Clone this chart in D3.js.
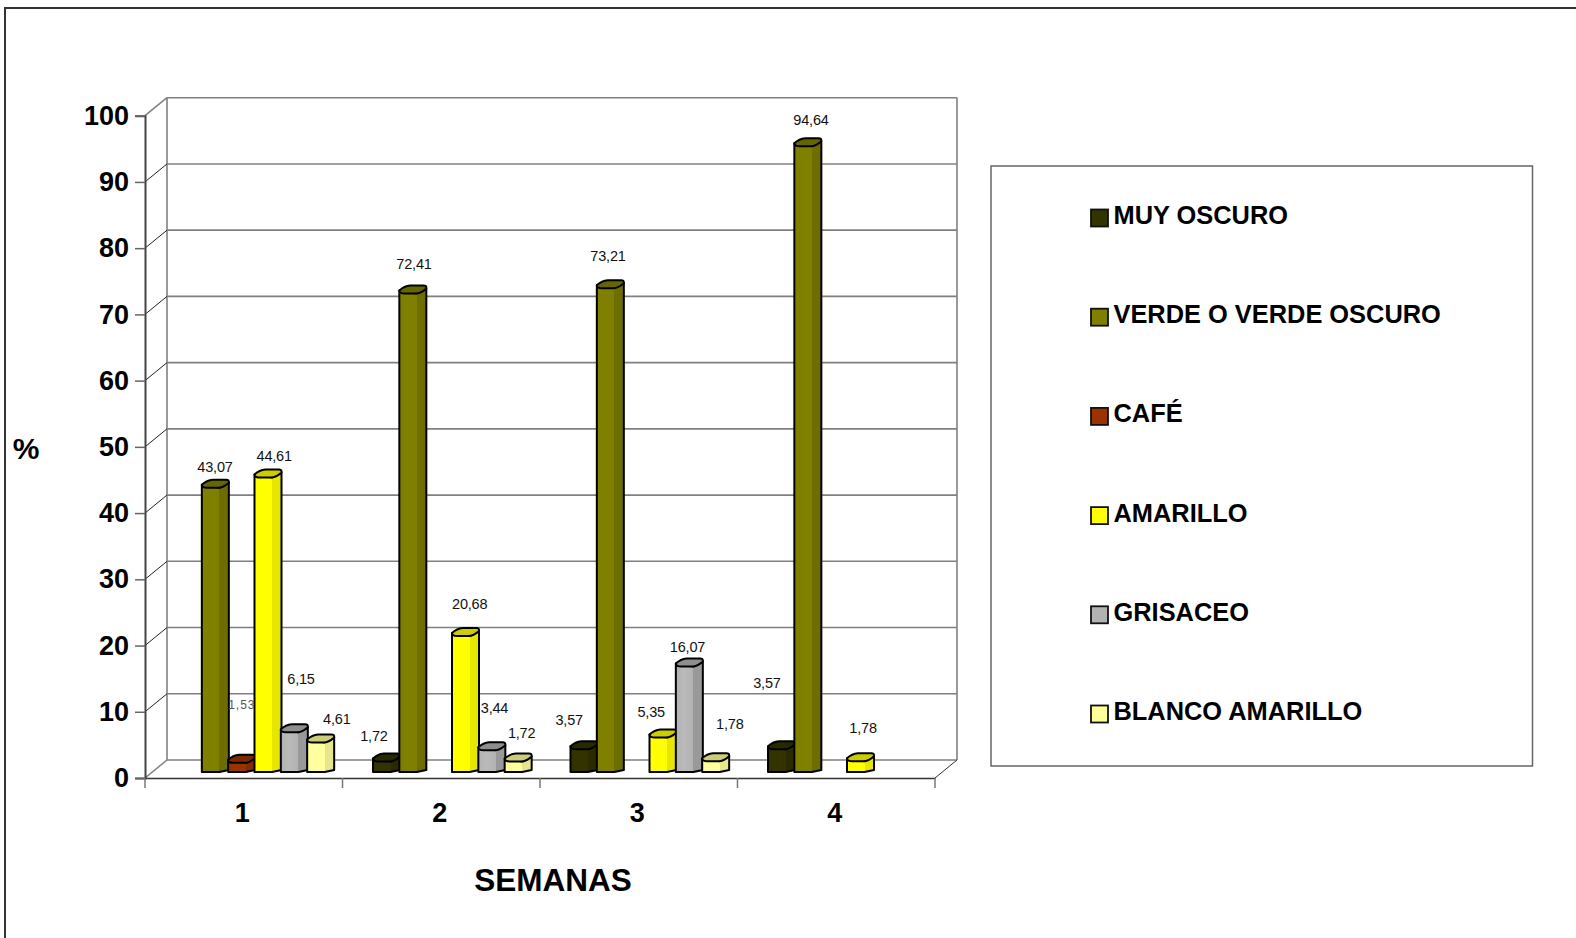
<!DOCTYPE html>
<html>
<head>
<meta charset="utf-8">
<script src="https://cdnjs.cloudflare.com/ajax/libs/d3/7.8.5/d3.min.js"></script>
<style>
html,body{margin:0;padding:0;background:#fff;overflow:hidden}
text{font-family:"Liberation Sans",Arial,sans-serif}
</style>
</head>
<body>
<svg id="chart" width="1576" height="938"></svg>
<script>
const weeks = ["1","2","3","4"];
const seriesNames = ["MUY OSCURO","VERDE O VERDE OSCURO","CAFÉ","AMARILLO","GRISACEO","BLANCO AMARILLO"];
const muyOscuro = [null,1.72,3.57,3.57];
const verde = [43.07,72.41,73.21,94.64];
const cafe = [1.53,null,null,null];
const amarillo = [44.61,20.68,5.35,1.78];
const grisaceo = [6.15,3.44,16.07,null];
const blanco = [4.61,1.72,1.78,null];
const seriesValues = [muyOscuro,verde,cafe,amarillo,grisaceo,blanco];
const yTicks = [0,10,20,30,40,50,60,70,80,90,100];

// styling tables
const faceColors = ["#333300","#808000","#993300","#ffff00","#b2b2b2","#ffff99"];
const sideColors = ["#2b2b00","#6e6e00","#832c00","#e6e600","#999999","#e6e68a"];
const capColors  = ["#292900","#666600","#7a2900","#cccc00","#8e8e8e","#cccc7a"];
// hand-placed data label offsets [dx, dy] from each bar's top centre, as in the reference
const labelNudges = [
  [null,[0,-20],[0.5,-57],[6.5,-21],[7,-52],[16.5,-22]],
  [[-12.2,-24.6],[1.5,-28.6],null,[4.5,-31],[3,-41.7],[3.8,-28]],
  [[-14.5,-28],[-2,-31],null,[-11.5,-25],[-1.5,-19],[14.5,-36.6]],
  [[-14.2,-65],[3.5,-25],null,[2.9,-32.6],null,null]
];

const svg = d3.select("#chart");
const depthX = 22, depthY = 18;
const plot = {left:145,right:935,bottom:778,top:115.7};

const x = d3.scaleBand().domain(weeks).range([plot.left,plot.right]);
const xInner = d3.scaleBand().domain(seriesNames).range([30.5,188.5]);
const y = d3.scaleLinear().domain([0,100]).range([plot.bottom,plot.top]);
const yBar = d3.scaleLinear().domain([0,100]).range([plot.bottom-6,plot.top-6]);

// outer frame (top and left only)
svg.append("path").attr("d","M5,938V8H1576").attr("fill","none").attr("stroke","#333").attr("stroke-width",2);

// back wall and side walls
const wall = svg.append("g").attr("fill","none");
wall.selectAll("line.grid").data(yTicks).join("line").attr("class","grid")
  .attr("x1",plot.left+depthX).attr("x2",plot.right+depthX)
  .attr("y1",d=>y(d)-depthY).attr("y2",d=>y(d)-depthY)
  .attr("stroke","#808080").attr("stroke-width",1.6);
wall.append("line").attr("x1",plot.left+depthX).attr("x2",plot.left+depthX)
  .attr("y1",y(100)-depthY).attr("y2",y(0)-depthY).attr("stroke","#808080").attr("stroke-width",1.6);
wall.append("line").attr("x1",plot.right+depthX).attr("x2",plot.right+depthX)
  .attr("y1",y(100)-depthY).attr("y2",y(0)-depthY).attr("stroke","#808080").attr("stroke-width",1.6);
wall.selectAll("line.diag").data(yTicks).join("line").attr("class","diag")
  .attr("x1",plot.left).attr("x2",plot.left+depthX)
  .attr("y1",d=>y(d)).attr("y2",d=>y(d)-depthY)
  .attr("stroke",d=>(d===0||d===100)?"#808080":"#222").attr("stroke-width",d=>(d===0||d===100)?1.5:1);
wall.append("line").attr("x1",plot.right).attr("x2",plot.right+depthX)
  .attr("y1",y(0)).attr("y2",y(0)-depthY).attr("stroke","#333").attr("stroke-width",1);

// axes
const yAxis = d3.axisLeft(y).tickValues(yTicks).tickSize(10).tickPadding(6).tickFormat(d3.format("d"));
const gy = svg.append("g").attr("transform",`translate(${plot.left},0)`).call(yAxis);
gy.selectAll("text").attr("font-size",27).attr("font-weight","bold").attr("fill","#000")
  .attr("font-family","Liberation Sans");
gy.selectAll(".tick line").attr("stroke","#666").attr("stroke-width",1.5);
gy.select(".domain").attr("stroke","#444").attr("stroke-width",2);

const xAxis = d3.axisBottom(x).tickSize(0).tickPadding(25);
const gx = svg.append("g").attr("transform",`translate(0,${plot.bottom})`).call(xAxis);
gx.selectAll("text").attr("font-size",27).attr("font-weight","bold").attr("fill","#000")
  .attr("font-family","Liberation Sans").attr("dx",-1.5);
gx.select(".domain").attr("stroke","#333").attr("stroke-width",1.6);
const edges = [...weeks.map(w=>x(w)), x(weeks[weeks.length-1])+x.bandwidth()];
svg.append("g").selectAll("line").data(edges).join("line")
  .attr("x1",d=>d).attr("x2",d=>d).attr("y1",plot.bottom).attr("y2",plot.bottom+10)
  .attr("stroke","#777").attr("stroke-width",1.5);

// gradients for the faceted fronts
const defs = svg.append("defs");
seriesNames.forEach((n,i)=>{
  const g = defs.append("linearGradient").attr("id","f"+i);
  const stops = i>=4
    ? [[0,faceColors[i]],[.3,d3.rgb(faceColors[i]).brighter(.12)],[.65,faceColors[i]],[.65,sideColors[i]],[1,sideColors[i]]]
    : [[0,faceColors[i]],[.65,faceColors[i]],[.65,sideColors[i]],[1,sideColors[i]]];
  stops.forEach(s=>g.append("stop").attr("offset",s[0]).attr("stop-color",s[1]));
});

// bars
const barW = 27;
const cells = [];
weeks.forEach((w,wi)=>seriesNames.forEach((n,si)=>{
  const v = seriesValues[si][wi];
  if(v!==null) cells.push({w,wi,n,si,v});
}));
const bars = svg.append("g").selectAll("g").data(cells).join("g")
  .attr("stroke","#000").attr("stroke-width",2).attr("stroke-linejoin","round");
const X0 = d=>x(d.w)+xInner(d.n);
bars.append("path").attr("fill",d=>`url(#f${d.si})`).attr("d",d=>{
  const L=X0(d),R=L+barW,t=yBar(d.v),b=yBar(0),m=L+barW*.65;
  return `M${L},${t-2}L${L},${b}L${m},${b}L${R},${b-2}L${R},${t-4}L${m},${t+1}Z`;
});
bars.append("path").attr("fill",d=>capColors[d.si]).attr("d",d=>{
  const L=X0(d),R=L+barW,t=yBar(d.v);
  return `M${L},${t-2}Q${L+barW*.18},${t-6.5} ${L+barW*.4},${t-7}L${L+barW*.9},${t-7}Q${R},${t-7} ${R},${t-5}L${R},${t-4}Q${L+barW*.8},${t+1} ${L+barW*.6},${t+1}L${L+barW*.2},${t+1}Q${L},${t+1} ${L},${t-2}Z`;
});

// data labels
svg.append("g").selectAll("text").data(cells).join("text")
  .attr("text-anchor","middle").attr("dominant-baseline","central")
  .attr("x",d=>X0(d)+xInner.bandwidth()/2+labelNudges[d.wi][d.si][0])
  .attr("y",d=>yBar(d.v)+labelNudges[d.wi][d.si][1])
  .attr("font-size",d=>d.si===2?12:14.5).attr("fill",d=>d.si===2?"#555":"#111")
  .attr("letter-spacing",d=>d.si===2?1:-0.2)
  .text(d=>d3.format(".2f")(d.v).replace(".",","));

// axis titles
svg.append("text").attr("x",553).attr("y",880).attr("text-anchor","middle").attr("dominant-baseline","central")
  .attr("font-size",31.5).attr("font-weight","bold").text("SEMANAS");
svg.append("text").attr("x",26).attr("y",448).attr("text-anchor","middle").attr("dominant-baseline","central")
  .attr("font-size",30).attr("font-weight","bold").text("%");

// legend
svg.append("rect").attr("x",991).attr("y",166).attr("width",541.5).attr("height",600)
  .attr("fill","#fff").attr("stroke","#666").attr("stroke-width",1.5);
const legendY = d3.scalePoint().domain(seriesNames).range([218,714]);
const li = svg.append("g").selectAll("g").data(seriesNames).join("g");
li.append("rect").attr("x",1091).attr("y",d=>legendY(d)-8.5).attr("width",17).attr("height",17)
  .attr("fill",(d,i)=>faceColors[i]).attr("stroke","#111").attr("stroke-width",1.8);
li.append("text").attr("x",1113.5).attr("y",d=>legendY(d)-3).attr("dominant-baseline","central")
  .attr("font-size",25.4).attr("font-weight","bold").attr("fill","#000").text(d=>d);
</script>
</body>
</html>
